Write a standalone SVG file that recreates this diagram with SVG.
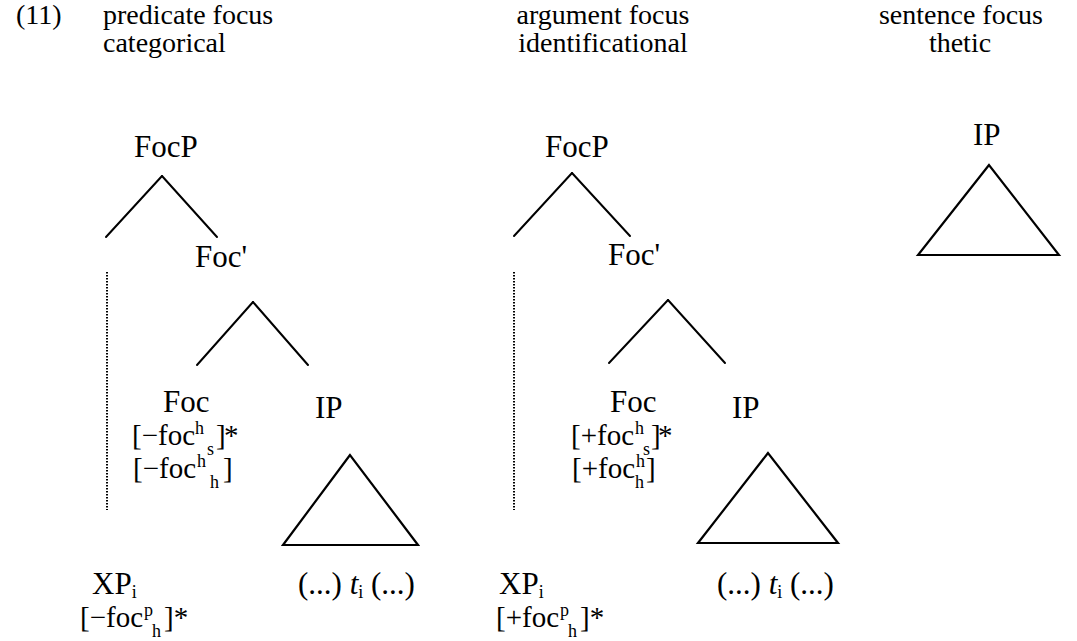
<svg xmlns="http://www.w3.org/2000/svg" width="1077" height="641" viewBox="0 0 1077 641">
<style>
text{font-family:"Liberation Serif","Times New Roman",serif;fill:#000}
.h{font-size:28px}
.n{font-size:31px}
.f{font-size:29px}
.s{font-size:18px}
.c{text-anchor:middle}
.ln{stroke:#000;stroke-width:2;fill:none;stroke-linecap:round}
.dot{stroke:#000;stroke-width:2;stroke-dasharray:1.5 1.5;fill:none}
.tri{stroke:#000;stroke-width:2.2;fill:none;stroke-linejoin:miter}
</style>
<rect width="1077" height="641" fill="#fff"/>
<g id="headers">
<text class="h" x="16" y="24">(11)</text>
<text class="h" x="103" y="24">predicate focus</text>
<text class="h" x="103" y="52">categorical</text>
<text class="h c" x="603" y="24">argument focus</text>
<text class="h c" x="603" y="52">identificational</text>
<text class="h c" x="961" y="24">sentence focus</text>
<text class="h c" x="960" y="52">thetic</text>
</g>
<g id="connectors">
<line class="ln" x1="162" y1="176" x2="106" y2="237"/>
<line class="ln" x1="162" y1="176" x2="217" y2="237"/>
<line class="ln" x1="253" y1="302" x2="197" y2="365"/>
<line class="ln" x1="253" y1="302" x2="308" y2="365"/>
<line class="dot" x1="107" y1="272" x2="107" y2="510"/>
<line class="ln" x1="572" y1="173" x2="514" y2="236"/>
<line class="ln" x1="572" y1="173" x2="630" y2="236"/>
<line class="ln" x1="668" y1="300" x2="609" y2="363"/>
<line class="ln" x1="668" y1="300" x2="725" y2="363"/>
<line class="dot" x1="514" y1="272" x2="514" y2="510"/>
</g>
<g id="t1-focp"><text class="n" x="134" y="157">FocP</text></g>
<g id="t1-focbar"><text class="n" x="195" y="267">Foc'</text></g>
<g id="t1-foc">
<text class="n" x="163" y="412">Foc</text>
<text class="f" x="132" y="445">[−foc</text>
<text class="s" x="195" y="434">h</text>
<text class="s" x="207" y="455">s</text>
<text class="f" x="216" y="445">]</text>
<text class="f" x="224" y="445">*</text>
<text class="f" x="133" y="478">[−foc</text>
<text class="s" x="197" y="467">h</text>
<text class="s" x="210" y="488">h</text>
<text class="f" x="223" y="478">]</text>
</g>
<g id="t1-ip">
<text class="n" x="315" y="418">IP</text>
<polygon class="tri" points="350,455 283,545 418,545"/>
<text class="n" x="298" y="594">(...) <tspan font-style="italic">t</tspan><tspan class="s" dy="4">i</tspan><tspan dy="-4"> (...)</tspan></text>
</g>
<g id="t1-xp">
<text class="n" x="92" y="594">XP<tspan class="s" dy="4">i</tspan></text>
<text class="f" x="80" y="627">[−foc</text>
<text class="s" x="144" y="616">p</text>
<text class="s" x="152" y="637">h</text>
<text class="f" x="164" y="627">]*</text>
</g>
<g id="t2-focp"><text class="n" x="545" y="157">FocP</text></g>
<g id="t2-focbar"><text class="n" x="608" y="265">Foc'</text></g>
<g id="t2-foc">
<text class="n" x="610" y="412">Foc</text>
<text class="f" x="571" y="445">[+foc</text>
<text class="s" x="635" y="434">h</text>
<text class="s" x="643" y="455">s</text>
<text class="f" x="651" y="445">]</text>
<text class="f" x="658" y="445">*</text>
<text class="f" x="572" y="478">[+foc</text>
<text class="s" x="636" y="467">h</text>
<text class="s" x="635" y="488">h</text>
<text class="f" x="646" y="478">]</text>
</g>
<g id="t2-ip">
<text class="n" x="732" y="418">IP</text>
<polygon class="tri" points="768,453 698,543 838,543"/>
<text class="n" x="717" y="594">(...) <tspan font-style="italic">t</tspan><tspan class="s" dy="4">i</tspan><tspan dy="-4"> (...)</tspan></text>
</g>
<g id="t2-xp">
<text class="n" x="499" y="594">XP<tspan class="s" dy="4">i</tspan></text>
<text class="f" x="496" y="627">[+foc</text>
<text class="s" x="560" y="616">p</text>
<text class="s" x="568" y="637">h</text>
<text class="f" x="580" y="627">]*</text>
</g>
<g id="t3-ip">
<text class="n" x="973" y="145">IP</text>
<polygon class="tri" points="989,165 918,255 1059,255"/>
</g>
</svg>
